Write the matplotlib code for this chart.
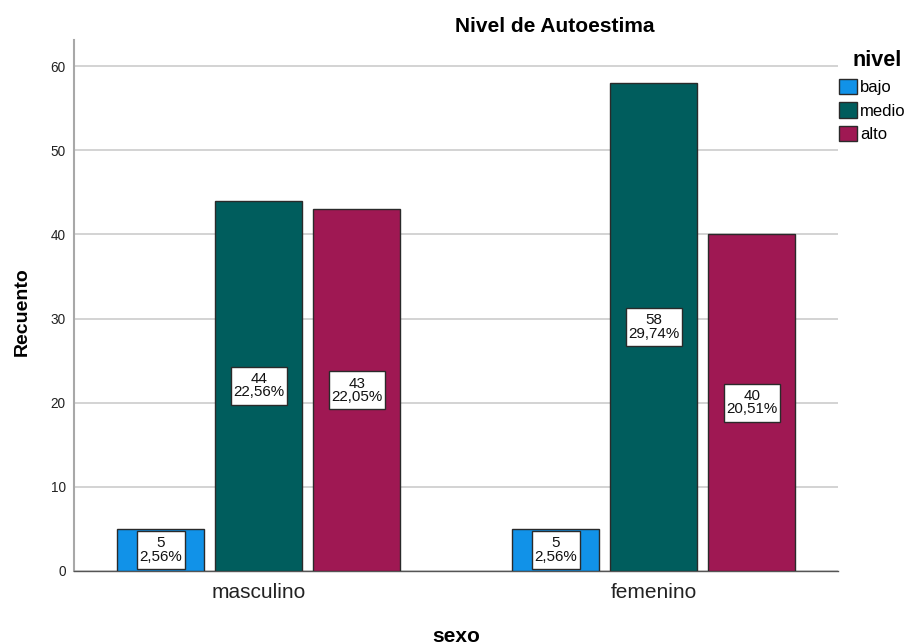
import matplotlib
matplotlib.use("Agg")
import matplotlib.pyplot as plt
from matplotlib.patches import Rectangle
import numpy as np

plt.rcParams['font.family'] = ['Liberation Sans', 'DejaVu Sans']

categories = ["masculino", "femenino"]
levels = ["bajo", "medio", "alto"]
counts = {
    "bajo": [5, 5],
    "medio": [44, 58],
    "alto": [43, 40],
}
percents = {
    "bajo": ["2,56%", "2,56%"],
    "medio": ["22,56%", "29,74%"],
    "alto": ["22,05%", "20,51%"],
}
colors = {"bajo": "#1192e8", "medio": "#005d5d", "alto": "#9f1853"}

W, H = 910, 644
fig = plt.figure(figsize=(W / 100, H / 100), dpi=100)
ax = fig.add_axes([74 / W, 1 - 571 / H, (838 - 74) / W, (571 - 40) / H])

x = np.arange(len(categories))
width = 0.22
step = 0.248
labels = []
for i, lev in enumerate(levels):
    pos = x + (i - 1) * step
    ax.bar(pos, counts[lev], width=width, color=colors[lev], edgecolor="#2a2a2a",
           linewidth=1.0, label=lev, zorder=3)
    for px, v, p in zip(pos, counts[lev], percents[lev]):
        t = ax.text(px, v / 2, f"{v}\n{p}", ha="center", va="center", fontsize=10.9,
                    linespacing=0.92, zorder=5, color="#111111")
        labels.append(t)

ax.set_xlim(-0.468, 1.466)
ax.set_ylim(0, 63.1)
ax.set_xticks(x)
ax.set_xticklabels(categories, fontsize=15, color="#222222")
ax.set_yticks([0, 10, 20, 30, 40, 50, 60])
ax.tick_params(axis='y', labelsize=9.8, length=0, pad=6, labelcolor="#222222")
ax.tick_params(axis='x', length=0, pad=9)
ax.grid(axis='y', color="#cccccc", linewidth=1.2, zorder=0)
for s in ["top", "right"]:
    ax.spines[s].set_visible(False)
ax.spines["left"].set_color("#a8a8a8")
ax.spines["left"].set_linewidth(1.5)
ax.spines["bottom"].set_color("#555555")
ax.spines["bottom"].set_linewidth(1.0)

fig.text(22 / W, 1 - 312 / H, "Recuento", fontsize=14, fontweight="bold", rotation=90,
         ha="center", va="center")
fig.text(456 / W, 1 - 636 / H, "sexo", fontsize=15, fontweight="bold", ha="center", va="center")
fig.text(555 / W, 1 - 27 / H, "Nivel de Autoestima", fontsize=15, fontweight="bold",
         ha="center", va="center")

fig.text(852 / W, 1 - 60 / H, "nivel", fontsize=15.5, fontweight="bold", ha="left", va="center")
leg = fig.legend(loc="upper left", bbox_to_anchor=(839 / W, 1 - 79 / H), frameon=False,
                 fontsize=12, handlelength=1.05, handleheight=1.05,
                 handletextpad=0.2, labelspacing=0.42, borderaxespad=0, borderpad=0)

# white boxes around the value labels, with SPSS-like padding
fig.canvas.draw()
for t in labels:
    bb = t.get_window_extent()
    padx, pady = 2.5, 5.5
    r = Rectangle((bb.x0 - padx, bb.y0 - pady), bb.width + 2 * padx, bb.height + 2 * pady,
                  transform=None, facecolor="white", edgecolor="#2a2a2a", linewidth=1.0,
                  zorder=4)
    ax.add_artist(r)
    r.set_clip_on(False)

fig.savefig("out.png", dpi=100)
